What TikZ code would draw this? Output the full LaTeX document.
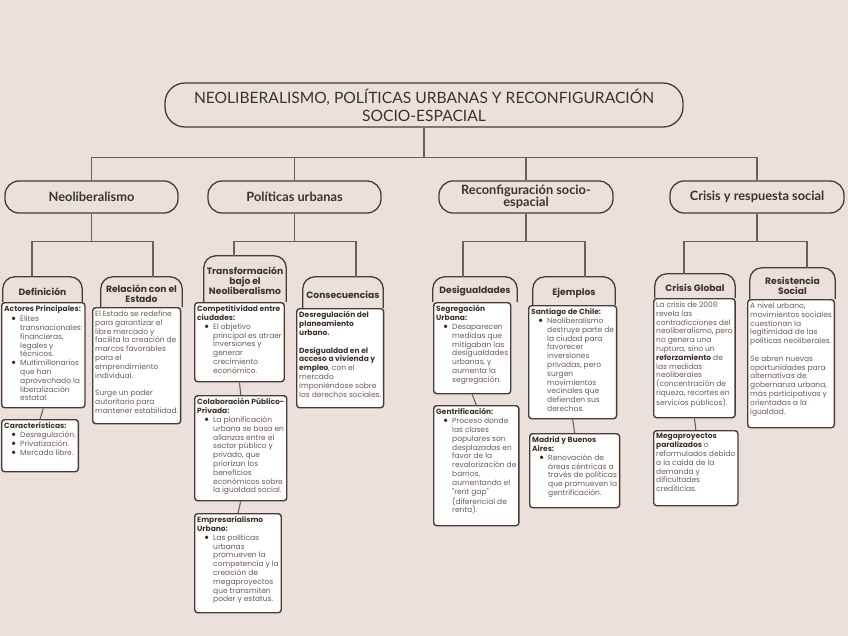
\documentclass[tikz,border=0pt]{standalone}
\usepackage{fontspec}
\setmainfont{Lato}
\newfontfamily\bodyf{Poppins}
\definecolor{bg}{HTML}{EBE0DC}
\definecolor{conncol}{HTML}{6F5E58}
\definecolor{ink}{HTML}{3F322D}
\definecolor{txt}{HTML}{6A5B55}
\definecolor{bd}{HTML}{4A3B36}
\newcommand\tl[1]{\hbox{#1}}
\newcommand\bl[1]{\hbox{\hspace*{7pt}\makebox[9pt][l]{\normalfont\color{ink}\fontsize{9}{8.8}\selectfont\textbullet}#1}}
\newcommand\cl[1]{\hbox{\hspace*{16pt}#1}}
\newcommand\B[1]{{\bfseries\color{ink}#1}}
\newcommand\cb[3]{\parbox[t][\dimexpr #2pt-6pt\relax][t]{\dimexpr #1pt-5pt\relax}{\bodyf\fontsize{7.5}{8.8}\selectfont\color{txt}#3}}
\tikzset{
  conn/.style={draw=conncol, line width=1.1pt},
  titlebox/.style={draw=bd, fill=bg, line width=1.3pt, rounded corners=20pt, align=center, text=ink, font=\fontsize{15.6}{18}\selectfont, minimum width=518pt, minimum height=44pt},
  lvlone/.style={draw=bd, fill=bg, line width=1.3pt, rounded corners=14pt, align=center, text=ink, font=\bfseries\fontsize{12.8}{12.5}\selectfont, minimum height=32pt},
  tabshape/.style={draw=none, inner sep=0pt},
  tabline/.style={draw=bd, fill=bg, line width=1.3pt, rounded corners=12pt},
  tabtext/.style={align=center, text=ink, font=\bodyf\bfseries\fontsize{9.2}{10}\selectfont, inner sep=0pt},
  cbox/.style={draw=bd, fill=white, line width=1.4pt, rounded corners=3pt, inner xsep=2.5pt, inner ysep=3pt, anchor=north west}
}
\begin{document}
\begin{tikzpicture}[x=1pt,y=-1pt]
\useasboundingbox[fill=bg] (0,0) rectangle (848,636);

% title and level one
\node[titlebox] (title) at (424,105) {NEOLIBERALISMO, POLÍTICAS URBANAS Y RECONFIGURACIÓN\\SOCIO-ESPACIAL};
\node[lvlone, minimum width=173pt] (neo) at (91.5,197) {Neoliberalismo};
\node[lvlone, minimum width=173pt] (pol) at (294.5,197) {Políticas urbanas};
\node[lvlone, minimum width=174pt] (rec) at (526,197) {Reconfiguración socio-\\espacial};
\node[lvlone, minimum width=174pt] (cri) at (757,197) {Crisis y respuesta social};

% tabs (headers)
\node[tabshape, minimum width=79pt, minimum height=25pt] (hdef) at (42.5,289.5) {};
\node[tabshape, minimum width=81pt, minimum height=30pt] (hrel) at (141.5,292) {};
\node[tabshape, minimum width=82pt, minimum height=46pt] (htra) at (245,279) {};
\node[tabshape, minimum width=80pt, minimum height=31pt] (hcon) at (343,292.5) {};
\node[tabshape, minimum width=84pt, minimum height=25pt] (hdes) at (475,289.5) {};
\node[tabshape, minimum width=82pt, minimum height=28pt] (hejm) at (574,291) {};
\node[tabshape, minimum width=80pt, minimum height=24pt] (hcg) at (695,286) {};
\node[tabshape, minimum width=85pt, minimum height=31pt] (hres) at (792.5,283.5) {};
\foreach \h in {hdef,hrel,htra,hcon,hdes,hejm,hcg,hres}{
  \path[tabline] (\h.south west) -- (\h.north west) -- (\h.north east) -- (\h.south east);
}
\node[tabtext] (tdef) at ([yshift=-2pt]hdef.center) {Definición};
\node[tabtext] (trel) at ([yshift=-2pt]hrel.center) {Relación con el\\Estado};
\node[tabtext] (ttra) at ([yshift=-2pt]htra.center) {Transformación\\bajo el\\Neoliberalismo};
\node[tabtext] (tcon) at ([yshift=-2pt]hcon.center) {Consecuencias};
\node[tabtext] (tdes) at ([yshift=-2pt]hdes.center) {Desigualdades};
\node[tabtext] (tejm) at ([yshift=-2pt]hejm.center) {Ejemplos};
\node[tabtext] (tcg) at ([yshift=-2pt]hcg.center) {Crisis Global};
\node[tabtext] (tres) at ([yshift=-2pt]hres.center) {Resistencia\\Social};

% content boxes
\node[cbox] (def) at (1,302) {\cb{88}{105}{%
\tl{\B{Actores Principales:}}
\bl{Élites}\cl{transnacionales:}\cl{financieras,}\cl{legales y}\cl{técnicos.}
\bl{Multimillonarios}\cl{que han}\cl{aprovechado la}\cl{liberalización}\cl{estatal.}}};
\node[cbox] (car) at (1,419) {\cb{88}{52}{%
\tl{\B{Características:}}
\bl{Desregulación.}\bl{Privatización.}\bl{Mercado libre.}}};
\node[cbox] (rel) at (92,307) {\cb{95}{116}{%
\tl{El Estado se redefine}\tl{para garantizar el}\tl{libre mercado y}\tl{facilita la creación de}\tl{marcos favorables}\tl{para el}\tl{emprendimiento}\tl{individual.}\tl{}
\tl{Surge un poder}\tl{autoritario para}\tl{mantener estabilidad.}}};
\node[cbox] (com) at (194,302) {\cb{98}{79}{%
\tl{\B{Competitividad entre}}\tl{\B{ciudades:}}
\bl{El objetivo}\cl{principal es atraer}\cl{inversiones y}\cl{generar}\cl{crecimiento}\cl{económico.}}};
\node[cbox] (col) at (194,395) {\cb{98}{105}{%
\tl{\B{Colaboración Público-}}\tl{\B{Privada:}}
\bl{La planificación}\cl{urbana se basa en}\cl{alianzas entre el}\cl{sector público y}\cl{privado, que}\cl{priorizan los}\cl{beneficios}\cl{económicos sobre}\cl{la igualdad social.}}};
\node[cbox] (emp) at (194,513) {\cb{98}{99}{%
\tl{\B{Empresarialismo}}\tl{\B{Urbano:}}
\bl{Las políticas}\cl{urbanas}\cl{promueven la}\cl{competencia y la}\cl{creación de}\cl{megaproyectos}\cl{que transmiten}\cl{poder y estatus.}}};
\node[cbox] (cons) at (296,308) {\cb{94}{99}{%
\tl{\B{Desregulación del}}\tl{\B{planeamiento}}\tl{\B{urbano.}}\tl{}
\tl{\B{Desigualdad en el}}\tl{\B{acceso a vivienda y}}\tl{\B{empleo}, con el}\tl{mercado}\tl{imponiéndose sobre}\tl{los derechos sociales.}}};
\node[cbox] (seg) at (433,302) {\cb{88}{91}{%
\tl{\B{Segregación}}\tl{\B{Urbana:}}
\bl{Desaparecen}\cl{medidas que}\cl{mitigaban las}\cl{desigualdades}\cl{urbanas, y}\cl{aumenta la}\cl{segregación.}}};
\node[cbox] (gen) at (433,405) {\cb{88}{120}{%
\tl{\B{Gentrificación:}}
\bl{Proceso donde}\cl{las clases}\cl{populares son}\cl{desplazadas en}\cl{favor de la}\cl{revalorización de}\cl{barrios,}\cl{aumentando el}\cl{"rent gap"}\cl{(diferencial de}\cl{renta).}}};
\node[cbox] (san) at (528,305) {\cb{96}{113}{%
\tl{\B{Santiago de Chile:}}
\bl{Neoliberalismo}\cl{destruye parte de}\cl{la ciudad para}\cl{favorecer}\cl{inversiones}\cl{privadas, pero}\cl{surgen}\cl{movimientos}\cl{vecinales que}\cl{defienden sus}\cl{derechos.}}};
\node[cbox] (mad) at (529,433) {\cb{94}{74}{%
\tl{\B{Madrid y Buenos}}\tl{\B{Aires:}}
\bl{Renovación de}\cl{áreas céntricas a}\cl{través de políticas}\cl{que promueven la}\cl{gentrificación.}}};
\node[cbox] (cg) at (653,298) {\cb{89}{119}{%
\tl{La crisis de 2008}\tl{revela las}\tl{contradicciones del}\tl{neoliberalismo, pero}\tl{no genera una}\tl{ruptura, sino un}\tl{\B{reforzamiento} de}\tl{las medidas}\tl{neoliberales}\tl{(concentración de}\tl{riqueza, recortes en}\tl{servicios públicos).}}};
\node[cbox] (meg) at (653,430) {\cb{89}{75}{%
\tl{\B{Megaproyectos}}\tl{\B{paralizados} o}\tl{reformulados debido}\tl{a la caída de la}\tl{demanda y}\tl{dificultades}\tl{crediticias.}}};
\node[cbox] (res) at (747,299) {\cb{97}{128}{%
\tl{A nivel urbano,}\tl{movimientos sociales}\tl{cuestionan la}\tl{legitimidad de las}\tl{políticas neoliberales.}\tl{}
\tl{Se abren nuevas}\tl{oportunidades para}\tl{alternativas de}\tl{gobernanza urbana,}\tl{más participativas y}\tl{orientadas a la}\tl{igualdad.}}};

% connectors
\draw[conn] (title.south) -- ++(0,30) coordinate (tb);
\draw[conn] (tb) -| (neo.north);
\draw[conn] (tb) -| (pol.north);
\draw[conn] (tb) -| (rec.north);
\draw[conn] (tb) -| (cri.north);

\draw[conn] (neo.south) -- ++(0,28) coordinate (nb);
\draw[conn] (nb) -| ([xshift=-10.5pt]hdef.north);
\draw[conn] (nb) -| ([xshift=11.5pt]hrel.north);
\draw[conn] (pol.south) -- ++(0,28) coordinate (pb);
\draw[conn] (pb) -| ([xshift=-11pt]htra.north);
\draw[conn] (pb) -| ([xshift=13pt]hcon.north);
\draw[conn] (rec.south) -- ++(0,28) coordinate (rb);
\draw[conn] (rb) -| ([xshift=-12pt]hdes.north);
\draw[conn] (rb) -| ([xshift=11pt]hejm.north);
\draw[conn] (cri.south) -- ++(0,28) coordinate (cb);
\draw[conn] (cb) -| ([xshift=-11pt]hcg.north);
\draw[conn] (cb) -| ([xshift=14.5pt]hres.north);

\draw[conn] (def.south) -- (car.north);
\draw[conn] (com.south) -- (col.north);
\draw[conn] (col.south) -- (emp.north);
\draw[conn] (seg.south) -- (gen.north);
\draw[conn] (san.south) -- (mad.north);
\draw[conn] (cg.south) -- (meg.north);
\end{tikzpicture}
\end{document}
